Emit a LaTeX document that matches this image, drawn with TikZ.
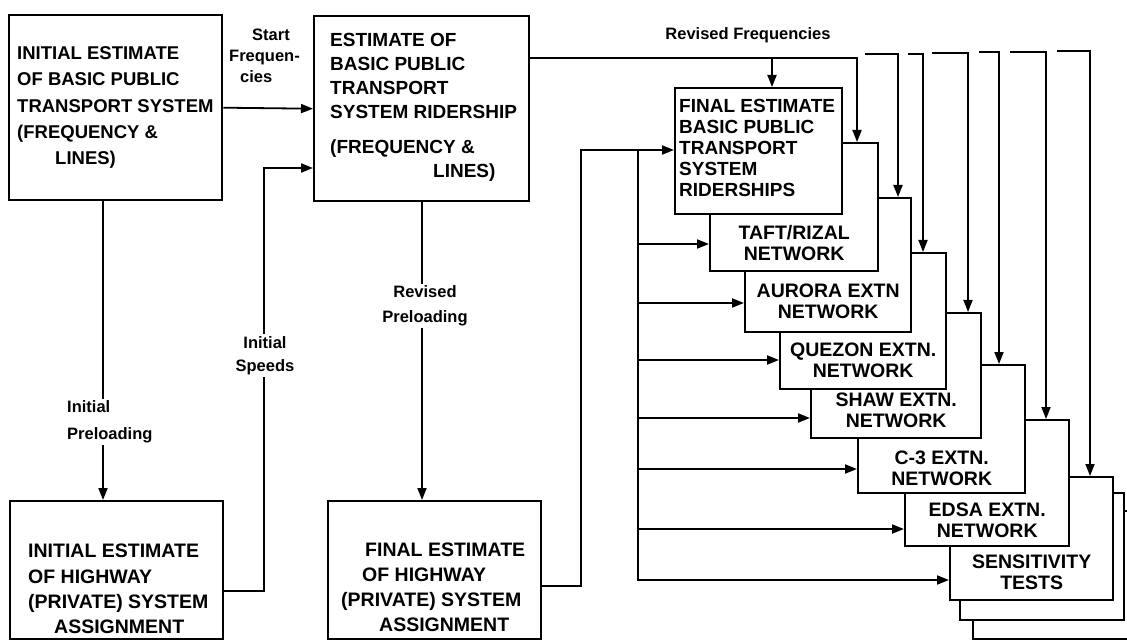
\documentclass[tikz,border=0pt]{standalone}
\usepackage{fontspec}
\setmainfont{Liberation Sans}
\usetikzlibrary{arrows.meta}

\tikzset{
  procbox/.style={draw, line width=2.4pt, fill=white, inner sep=0pt, anchor=north west},
  boxtxt/.style={font=\bfseries\fontsize{19.5}{#1}\selectfont, inner sep=0pt},
  boxtxt/.default=21,
  lbl/.style={font=\bfseries\fontsize{16.5}{#1}\selectfont, fill=white, inner sep=2pt},
  lbl/.default=23,
  flow/.style={line width=1.8pt, -{Triangle[length=12pt,width=9pt]}},
}

\begin{document}
\begin{tikzpicture}[x=1pt, y=-1pt]
    \useasboundingbox (0,0) rectangle (1127,644);
    \clip (0,0) rectangle (1127,644);

    % main boxes
    \node[procbox, minimum width=213pt, minimum height=185pt] (bA) at (8,14) {};
    \node[procbox, minimum width=215pt, minimum height=185pt] (bB) at (313,15) {};
    \node[procbox, minimum width=213pt, minimum height=138pt] (bC) at (9,500) {};
    \node[procbox, minimum width=213pt, minimum height=138pt] (bD) at (327,500) {};

    \node[boxtxt, font=\bfseries\fontsize{18.5}{26.25}\selectfont, align=left, anchor=west] (atxt) at (17,107.5)
        {INITIAL ESTIMATE\\OF BASIC PUBLIC\\TRANSPORT SYSTEM\\(FREQUENCY \&\\\hspace*{38pt}LINES)};
    \node[boxtxt, font=\bfseries\fontsize{19}{24}\selectfont, align=left, anchor=west] (btxt) at (330,107)
        {ESTIMATE OF\\BASIC PUBLIC\\TRANSPORT\\SYSTEM RIDERSHIP\\[11pt](FREQUENCY \&\\\hspace*{103pt}LINES)};
    \node[boxtxt=25.3, align=left, anchor=west] (ctxt) at (28,589)
        {INITIAL ESTIMATE\\OF HIGHWAY\\(PRIVATE) SYSTEM\\\hspace*{26pt}ASSIGNMENT};
    \node[boxtxt=25, align=left, anchor=west] (dtxt) at (341,587.5)
        {\hspace*{24pt}FINAL ESTIMATE\\\hspace*{21pt}OF HIGHWAY\\(PRIVATE) SYSTEM\\\hspace*{38pt}ASSIGNMENT};

    % stack of network boxes, back to front
    \foreach \n/\xv/\yv/\w/\h in {pgthree/972/510/170/128, pgtwo/959/492/164/127,
        sens/949/476/163/123, edsa/904/419/164/126, cthree/857/364/167/128,
        shaw/810/312/170/125, que/779/252/166/136, aur/744/197/166/134,
        taft/709/142/168/128, fin/674/87/167/126}
        \node[procbox, minimum width=\w pt, minimum height=\h pt] (\n) at (\xv,\yv) {};

    \node[boxtxt, font=\bfseries\fontsize{19}{21}\selectfont, align=left, anchor=west] (fintxt) at (679,148)
        {FINAL ESTIMATE\\BASIC PUBLIC\\TRANSPORT\\SYSTEM\\RIDERSHIPS};
    \node[boxtxt, align=center] (tafttxt) at (taft.center |- 0,243.5) {TAFT/RIZAL\\NETWORK};
    \node[boxtxt, align=center] (aurtxt) at (aur.center |- 0,301) {AURORA EXTN\\NETWORK};
    \node[boxtxt, align=center] (quetxt) at (que.center |- 0,360) {QUEZON EXTN.\\NETWORK};
    \node[boxtxt, align=center] (shawtxt) at (shaw.center |- 0,410) {SHAW EXTN.\\NETWORK};
    \node[boxtxt, align=center] (cthreetxt) at (cthree.center |- 0,468.5) {C-3 EXTN.\\NETWORK};
    \node[boxtxt, align=center] (edsatxt) at (edsa.center |- 0,520) {EDSA EXTN.\\NETWORK};
    \node[boxtxt, align=center] (senstxt) at (sens.center |- 0,572) {SENSITIVITY\\TESTS};

    % connectors on the left
    \draw[flow] (bA.east) -- (bB.west);
    \draw[flow] (bA.south -| 103,0) -- (bC.north -| 103,0);
    \draw[flow] (bB.south -| 422,0) -- (bD.north -| 422,0);

    \coordinate (spd) at (264,168);
    \draw[flow] (bC.east |- 0,591) -| (spd) -- (bB.west |- spd);

    \coordinate (rise) at (581,150);
    \coordinate (bus) at (638,150);
    \draw[flow] (bD.east |- 0,586) -| (rise) -- (fin.west |- rise);
    \draw[flow] (bus) |- (sens.west |- 0,580);
    \foreach \n/\yv in {taft/244, aur/303, que/360, shaw/418, cthree/469, edsa/529}
        \draw[flow] (bus |- 0,\yv) -- (\n.west |- 0,\yv);

    % revised frequencies
    \draw[flow] (bB.east |- 0,58) -| (taft.north -| 857,0);
    \draw[flow] (772,58) -- (fin.north -| 772,0);
    \foreach \s/\xv/\h/\n in {865/898/54/aur, 908/923/54/que, 932/968/53/shaw,
        979/999/52/cthree, 1010/1046/52/edsa, 1057/1090/51/sens}
        \draw[flow] (\s,\h) -| (\n.north -| \xv,0);

    % labels
    \node[lbl=21, align=left, anchor=west] (startlbl) at (227,56)
        {\hspace*{23pt}Start\\Frequen-\\\hspace*{11pt}cies};
    \node[lbl] (revflbl) at (748,35) {Revised Frequencies};
    \node[lbl=25, align=center] (revplbl) at (425,306) {Revised\\Preloading};
    \node[lbl, align=center] (spdlbl) at (265,355.5) {Initial\\Speeds};
    \node[lbl=27, align=left, anchor=west] (inplbl) at (65,422) {Initial\\Preloading};
\end{tikzpicture}
\end{document}
